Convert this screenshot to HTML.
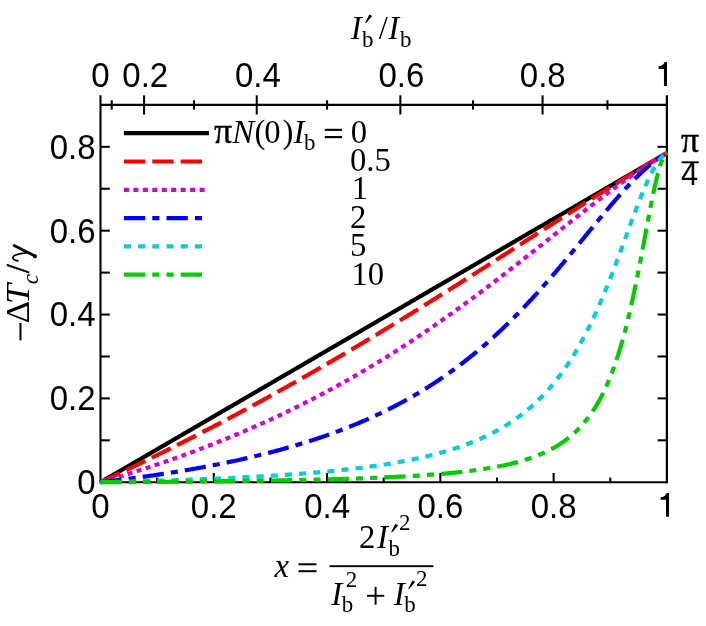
<!DOCTYPE html>
<html><head><meta charset="utf-8"><title>chart</title>
<style>html,body{margin:0;padding:0;background:#fff;}svg{display:block;will-change:transform;}text{font-family:"Liberation Sans",sans-serif;fill:#000;}.h{font-family:"Liberation Sans",sans-serif;}.s{font-family:"Liberation Serif",serif;}.i{font-family:"Liberation Serif",serif;font-style:italic;}</style></head><body>
<svg width="706" height="626" viewBox="0 0 706 626">
<rect width="706" height="626" fill="#fff"/>
<g stroke="#000" fill="none" stroke-linecap="butt">
<line x1="100.50" y1="95.30" x2="100.50" y2="483.30" stroke-width="2.10"/>
<line x1="666.90" y1="95.30" x2="666.90" y2="483.30" stroke-width="2.20"/>
<line x1="100.50" y1="104.90" x2="666.90" y2="104.90" stroke-width="2.30"/>
<line x1="100.50" y1="482.25" x2="666.90" y2="482.25" stroke-width="2.10"/>
<line x1="157.14" y1="482.25" x2="157.14" y2="477.55" stroke-width="2.05"/>
<line x1="213.78" y1="482.25" x2="213.78" y2="472.95" stroke-width="2.05"/>
<line x1="270.42" y1="482.25" x2="270.42" y2="477.55" stroke-width="2.05"/>
<line x1="327.06" y1="482.25" x2="327.06" y2="472.95" stroke-width="2.05"/>
<line x1="383.70" y1="482.25" x2="383.70" y2="477.55" stroke-width="2.05"/>
<line x1="440.34" y1="482.25" x2="440.34" y2="472.95" stroke-width="2.05"/>
<line x1="496.98" y1="482.25" x2="496.98" y2="477.55" stroke-width="2.05"/>
<line x1="553.62" y1="482.25" x2="553.62" y2="472.95" stroke-width="2.05"/>
<line x1="610.26" y1="482.25" x2="610.26" y2="477.55" stroke-width="2.05"/>
<line x1="111.72" y1="100.20" x2="111.72" y2="109.60" stroke-width="2.05"/>
<line x1="144.07" y1="95.30" x2="144.07" y2="114.50" stroke-width="2.05"/>
<line x1="194.03" y1="100.20" x2="194.03" y2="109.60" stroke-width="2.05"/>
<line x1="256.75" y1="95.30" x2="256.75" y2="114.50" stroke-width="2.05"/>
<line x1="327.06" y1="100.20" x2="327.06" y2="109.60" stroke-width="2.05"/>
<line x1="400.36" y1="95.30" x2="400.36" y2="114.50" stroke-width="2.05"/>
<line x1="473.03" y1="100.20" x2="473.03" y2="109.60" stroke-width="2.05"/>
<line x1="542.57" y1="95.30" x2="542.57" y2="114.50" stroke-width="2.05"/>
<line x1="607.44" y1="100.20" x2="607.44" y2="109.60" stroke-width="2.05"/>
<line x1="100.50" y1="440.32" x2="109.80" y2="440.32" stroke-width="2.05"/>
<line x1="666.90" y1="440.32" x2="657.60" y2="440.32" stroke-width="2.05"/>
<line x1="100.50" y1="398.39" x2="109.80" y2="398.39" stroke-width="2.05"/>
<line x1="666.90" y1="398.39" x2="657.60" y2="398.39" stroke-width="2.05"/>
<line x1="100.50" y1="356.47" x2="109.80" y2="356.47" stroke-width="2.05"/>
<line x1="666.90" y1="356.47" x2="657.60" y2="356.47" stroke-width="2.05"/>
<line x1="100.50" y1="314.54" x2="109.80" y2="314.54" stroke-width="2.05"/>
<line x1="666.90" y1="314.54" x2="657.60" y2="314.54" stroke-width="2.05"/>
<line x1="100.50" y1="272.61" x2="109.80" y2="272.61" stroke-width="2.05"/>
<line x1="666.90" y1="272.61" x2="657.60" y2="272.61" stroke-width="2.05"/>
<line x1="100.50" y1="230.68" x2="109.80" y2="230.68" stroke-width="2.05"/>
<line x1="666.90" y1="230.68" x2="657.60" y2="230.68" stroke-width="2.05"/>
<line x1="100.50" y1="188.76" x2="109.80" y2="188.76" stroke-width="2.05"/>
<line x1="666.90" y1="188.76" x2="657.60" y2="188.76" stroke-width="2.05"/>
<line x1="100.50" y1="146.83" x2="109.80" y2="146.83" stroke-width="2.05"/>
<line x1="666.90" y1="146.83" x2="657.60" y2="146.83" stroke-width="2.05"/>
</g>
<g fill="none" stroke-width="4.20" stroke-linecap="butt" stroke-linejoin="round">
<path d="M100.5 482.2L101.6 481.6L102.8 480.9L103.9 480.3L105.0 479.6L106.2 479.0L107.3 478.3L108.4 477.6L109.6 477.0L110.7 476.3L111.8 475.7L113.0 475.0L114.1 474.3L115.2 473.7L116.4 473.0L117.5 472.4L118.6 471.7L119.8 471.1L120.9 470.4L122.0 469.7L123.2 469.1L124.3 468.4L125.4 467.8L126.6 467.1L127.7 466.4L128.8 465.8L130.0 465.1L131.1 464.5L132.2 463.8L133.4 463.2L134.5 462.5L135.6 461.8L136.7 461.2L137.9 460.5L139.0 459.9L140.1 459.2L141.3 458.5L142.4 457.9L143.5 457.2L144.7 456.6L145.8 455.9L146.9 455.2L148.1 454.6L149.2 453.9L150.3 453.3L151.5 452.6L152.6 452.0L153.7 451.3L154.9 450.6L156.0 450.0L157.1 449.3L158.3 448.7L159.4 448.0L160.5 447.3L161.7 446.7L162.8 446.0L163.9 445.4L165.1 444.7L166.2 444.1L167.3 443.4L168.5 442.7L169.6 442.1L170.7 441.4L171.9 440.8L173.0 440.1L174.1 439.4L175.3 438.8L176.4 438.1L177.5 437.5L178.7 436.8L179.8 436.1L180.9 435.5L182.1 434.8L183.2 434.2L184.3 433.5L185.5 432.9L186.6 432.2L187.7 431.5L188.9 430.9L190.0 430.2L191.1 429.6L192.3 428.9L193.4 428.2L194.5 427.6L195.7 426.9L196.8 426.3L197.9 425.6L199.1 425.0L200.2 424.3L201.3 423.6L202.5 423.0L203.6 422.3L204.7 421.7L205.9 421.0L207.0 420.3L208.1 419.7L209.2 419.0L210.4 418.4L211.5 417.7L212.6 417.0L213.8 416.4L214.9 415.7L216.0 415.1L217.2 414.4L218.3 413.8L219.4 413.1L220.6 412.4L221.7 411.8L222.8 411.1L224.0 410.5L225.1 409.8L226.2 409.1L227.4 408.5L228.5 407.8L229.6 407.2L230.8 406.5L231.9 405.9L233.0 405.2L234.2 404.5L235.3 403.9L236.4 403.2L237.6 402.6L238.7 401.9L239.8 401.2L241.0 400.6L242.1 399.9L243.2 399.3L244.4 398.6L245.5 397.9L246.6 397.3L247.8 396.6L248.9 396.0L250.0 395.3L251.2 394.7L252.3 394.0L253.4 393.3L254.6 392.7L255.7 392.0L256.8 391.4L258.0 390.7L259.1 390.0L260.2 389.4L261.4 388.7L262.5 388.1L263.6 387.4L264.8 386.8L265.9 386.1L267.0 385.4L268.2 384.8L269.3 384.1L270.4 383.5L271.6 382.8L272.7 382.1L273.8 381.5L275.0 380.8L276.1 380.2L277.2 379.5L278.3 378.8L279.5 378.2L280.6 377.5L281.7 376.9L282.9 376.2L284.0 375.6L285.1 374.9L286.3 374.2L287.4 373.6L288.5 372.9L289.7 372.3L290.8 371.6L291.9 370.9L293.1 370.3L294.2 369.6L295.3 369.0L296.5 368.3L297.6 367.7L298.7 367.0L299.9 366.3L301.0 365.7L302.1 365.0L303.3 364.4L304.4 363.7L305.5 363.0L306.7 362.4L307.8 361.7L308.9 361.1L310.1 360.4L311.2 359.8L312.3 359.1L313.5 358.4L314.6 357.8L315.7 357.1L316.9 356.5L318.0 355.8L319.1 355.1L320.3 354.5L321.4 353.8L322.5 353.2L323.7 352.5L324.8 351.8L325.9 351.2L327.1 350.5L328.2 349.9L329.3 349.2L330.5 348.6L331.6 347.9L332.7 347.2L333.9 346.6L335.0 345.9L336.1 345.3L337.3 344.6L338.4 343.9L339.5 343.3L340.7 342.6L341.8 342.0L342.9 341.3L344.1 340.7L345.2 340.0L346.3 339.3L347.5 338.7L348.6 338.0L349.7 337.4L350.8 336.7L352.0 336.0L353.1 335.4L354.2 334.7L355.4 334.1L356.5 333.4L357.6 332.7L358.8 332.1L359.9 331.4L361.0 330.8L362.2 330.1L363.3 329.5L364.4 328.8L365.6 328.1L366.7 327.5L367.8 326.8L369.0 326.2L370.1 325.5L371.2 324.8L372.4 324.2L373.5 323.5L374.6 322.9L375.8 322.2L376.9 321.6L378.0 320.9L379.2 320.2L380.3 319.6L381.4 318.9L382.6 318.3L383.7 317.6L384.8 316.9L386.0 316.3L387.1 315.6L388.2 315.0L389.4 314.3L390.5 313.6L391.6 313.0L392.8 312.3L393.9 311.7L395.0 311.0L396.2 310.4L397.3 309.7L398.4 309.0L399.6 308.4L400.7 307.7L401.8 307.1L403.0 306.4L404.1 305.7L405.2 305.1L406.4 304.4L407.5 303.8L408.6 303.1L409.8 302.5L410.9 301.8L412.0 301.1L413.2 300.5L414.3 299.8L415.4 299.2L416.6 298.5L417.7 297.8L418.8 297.2L419.9 296.5L421.1 295.9L422.2 295.2L423.3 294.5L424.5 293.9L425.6 293.2L426.7 292.6L427.9 291.9L429.0 291.3L430.1 290.6L431.3 289.9L432.4 289.3L433.5 288.6L434.7 288.0L435.8 287.3L436.9 286.6L438.1 286.0L439.2 285.3L440.3 284.7L441.5 284.0L442.6 283.4L443.7 282.7L444.9 282.0L446.0 281.4L447.1 280.7L448.3 280.1L449.4 279.4L450.5 278.7L451.7 278.1L452.8 277.4L453.9 276.8L455.1 276.1L456.2 275.4L457.3 274.8L458.5 274.1L459.6 273.5L460.7 272.8L461.9 272.2L463.0 271.5L464.1 270.8L465.3 270.2L466.4 269.5L467.5 268.9L468.7 268.2L469.8 267.5L470.9 266.9L472.1 266.2L473.2 265.6L474.3 264.9L475.5 264.3L476.6 263.6L477.7 262.9L478.9 262.3L480.0 261.6L481.1 261.0L482.3 260.3L483.4 259.6L484.5 259.0L485.7 258.3L486.8 257.7L487.9 257.0L489.1 256.4L490.2 255.7L491.3 255.0L492.4 254.4L493.6 253.7L494.7 253.1L495.8 252.4L497.0 251.7L498.1 251.1L499.2 250.4L500.4 249.8L501.5 249.1L502.6 248.4L503.8 247.8L504.9 247.1L506.0 246.5L507.2 245.8L508.3 245.2L509.4 244.5L510.6 243.8L511.7 243.2L512.8 242.5L514.0 241.9L515.1 241.2L516.2 240.5L517.4 239.9L518.5 239.2L519.6 238.6L520.8 237.9L521.9 237.3L523.0 236.6L524.2 235.9L525.3 235.3L526.4 234.6L527.6 234.0L528.7 233.3L529.8 232.6L531.0 232.0L532.1 231.3L533.2 230.7L534.4 230.0L535.5 229.3L536.6 228.7L537.8 228.0L538.9 227.4L540.0 226.7L541.2 226.1L542.3 225.4L543.4 224.7L544.6 224.1L545.7 223.4L546.8 222.8L548.0 222.1L549.1 221.4L550.2 220.8L551.4 220.1L552.5 219.5L553.6 218.8L554.8 218.2L555.9 217.5L557.0 216.8L558.2 216.2L559.3 215.5L560.4 214.9L561.5 214.2L562.7 213.5L563.8 212.9L564.9 212.2L566.1 211.6L567.2 210.9L568.3 210.2L569.5 209.6L570.6 208.9L571.7 208.3L572.9 207.6L574.0 207.0L575.1 206.3L576.3 205.6L577.4 205.0L578.5 204.3L579.7 203.7L580.8 203.0L581.9 202.3L583.1 201.7L584.2 201.0L585.3 200.4L586.5 199.7L587.6 199.1L588.7 198.4L589.9 197.7L591.0 197.1L592.1 196.4L593.3 195.8L594.4 195.1L595.5 194.4L596.7 193.8L597.8 193.1L598.9 192.5L600.1 191.8L601.2 191.1L602.3 190.5L603.5 189.8L604.6 189.2L605.7 188.5L606.9 187.9L608.0 187.2L609.1 186.5L610.3 185.9L611.4 185.2L612.5 184.6L613.7 183.9L614.8 183.2L615.9 182.6L617.1 181.9L618.2 181.3L619.3 180.6L620.5 180.0L621.6 179.3L622.7 178.6L623.9 178.0L625.0 177.3L626.1 176.7L627.3 176.0L628.4 175.3L629.5 174.7L630.7 174.0L631.8 173.4L632.9 172.7L634.0 172.0L635.2 171.4L636.3 170.7L637.4 170.1L638.6 169.4L639.7 168.8L640.8 168.1L642.0 167.4L643.1 166.8L644.2 166.1L645.4 165.5L646.5 164.8L647.6 164.1L648.8 163.5L649.9 162.8L651.0 162.2L652.2 161.5L653.3 160.9L654.4 160.2L655.6 159.5L656.7 158.9L657.8 158.2L659.0 157.6L660.1 156.9L661.2 156.2L662.4 155.6L663.5 154.9L664.6 154.3L665.8 153.6L666.9 153.0" stroke="#000000"/>
<path d="M100.5 482.2L101.6 481.7L102.8 481.2L103.9 480.7L105.0 480.1L106.2 479.6L107.3 479.1L108.4 478.5L109.6 478.0L110.7 477.5L111.8 476.9L113.0 476.4L114.1 475.9L115.2 475.3L116.4 474.8L117.5 474.3L118.6 473.7L119.8 473.2L120.9 472.7L122.0 472.1L123.2 471.6L124.3 471.0L125.4 470.5L126.6 470.0L127.7 469.4L128.8 468.9L130.0 468.3L131.1 467.8L132.2 467.2L133.4 466.7L134.5 466.2L135.6 465.6L136.7 465.1L137.9 464.5L139.0 464.0L140.1 463.4L141.3 462.9L142.4 462.3L143.5 461.8L144.7 461.2L145.8 460.7L146.9 460.1L148.1 459.6L149.2 459.0L150.3 458.4L151.5 457.9L152.6 457.3L153.7 456.8L154.9 456.2L156.0 455.7L157.1 455.1L158.3 454.5L159.4 454.0L160.5 453.4L161.7 452.9L162.8 452.3L163.9 451.7L165.1 451.2L166.2 450.6L167.3 450.0L168.5 449.5L169.6 448.9L170.7 448.4L171.9 447.8L173.0 447.2L174.1 446.6L175.3 446.1L176.4 445.5L177.5 444.9L178.7 444.4L179.8 443.8L180.9 443.2L182.1 442.6L183.2 442.1L184.3 441.5L185.5 440.9L186.6 440.3L187.7 439.8L188.9 439.2L190.0 438.6L191.1 438.0L192.3 437.5L193.4 436.9L194.5 436.3L195.7 435.7L196.8 435.1L197.9 434.6L199.1 434.0L200.2 433.4L201.3 432.8L202.5 432.2L203.6 431.6L204.7 431.0L205.9 430.5L207.0 429.9L208.1 429.3L209.2 428.7L210.4 428.1L211.5 427.5L212.6 426.9L213.8 426.3L214.9 425.7L216.0 425.1L217.2 424.6L218.3 424.0L219.4 423.4L220.6 422.8L221.7 422.2L222.8 421.6L224.0 421.0L225.1 420.4L226.2 419.8L227.4 419.2L228.5 418.6L229.6 418.0L230.8 417.4L231.9 416.8L233.0 416.2L234.2 415.6L235.3 415.0L236.4 414.4L237.6 413.8L238.7 413.1L239.8 412.5L241.0 411.9L242.1 411.3L243.2 410.7L244.4 410.1L245.5 409.5L246.6 408.9L247.8 408.3L248.9 407.7L250.0 407.0L251.2 406.4L252.3 405.8L253.4 405.2L254.6 404.6L255.7 404.0L256.8 403.4L258.0 402.7L259.1 402.1L260.2 401.5L261.4 400.9L262.5 400.3L263.6 399.6L264.8 399.0L265.9 398.4L267.0 397.8L268.2 397.2L269.3 396.5L270.4 395.9L271.6 395.3L272.7 394.7L273.8 394.0L275.0 393.4L276.1 392.8L277.2 392.1L278.3 391.5L279.5 390.9L280.6 390.3L281.7 389.6L282.9 389.0L284.0 388.4L285.1 387.7L286.3 387.1L287.4 386.5L288.5 385.8L289.7 385.2L290.8 384.5L291.9 383.9L293.1 383.3L294.2 382.6L295.3 382.0L296.5 381.4L297.6 380.7L298.7 380.1L299.9 379.4L301.0 378.8L302.1 378.1L303.3 377.5L304.4 376.9L305.5 376.2L306.7 375.6L307.8 374.9L308.9 374.3L310.1 373.6L311.2 373.0L312.3 372.3L313.5 371.7L314.6 371.0L315.7 370.4L316.9 369.7L318.0 369.1L319.1 368.4L320.3 367.8L321.4 367.1L322.5 366.5L323.7 365.8L324.8 365.2L325.9 364.5L327.1 363.9L328.2 363.2L329.3 362.5L330.5 361.9L331.6 361.2L332.7 360.6L333.9 359.9L335.0 359.2L336.1 358.6L337.3 357.9L338.4 357.3L339.5 356.6L340.7 355.9L341.8 355.3L342.9 354.6L344.1 353.9L345.2 353.3L346.3 352.6L347.5 351.9L348.6 351.3L349.7 350.6L350.8 349.9L352.0 349.3L353.1 348.6L354.2 347.9L355.4 347.2L356.5 346.6L357.6 345.9L358.8 345.2L359.9 344.5L361.0 343.9L362.2 343.2L363.3 342.5L364.4 341.8L365.6 341.2L366.7 340.5L367.8 339.8L369.0 339.1L370.1 338.5L371.2 337.8L372.4 337.1L373.5 336.4L374.6 335.7L375.8 335.1L376.9 334.4L378.0 333.7L379.2 333.0L380.3 332.3L381.4 331.6L382.6 331.0L383.7 330.3L384.8 329.6L386.0 328.9L387.1 328.2L388.2 327.5L389.4 326.8L390.5 326.1L391.6 325.5L392.8 324.8L393.9 324.1L395.0 323.4L396.2 322.7L397.3 322.0L398.4 321.3L399.6 320.6L400.7 319.9L401.8 319.2L403.0 318.5L404.1 317.8L405.2 317.1L406.4 316.4L407.5 315.7L408.6 315.0L409.8 314.4L410.9 313.7L412.0 313.0L413.2 312.3L414.3 311.6L415.4 310.9L416.6 310.2L417.7 309.5L418.8 308.8L419.9 308.1L421.1 307.4L422.2 306.7L423.3 305.9L424.5 305.2L425.6 304.5L426.7 303.8L427.9 303.1L429.0 302.4L430.1 301.7L431.3 301.0L432.4 300.3L433.5 299.6L434.7 298.9L435.8 298.2L436.9 297.5L438.1 296.8L439.2 296.1L440.3 295.4L441.5 294.6L442.6 293.9L443.7 293.2L444.9 292.5L446.0 291.8L447.1 291.1L448.3 290.4L449.4 289.7L450.5 288.9L451.7 288.2L452.8 287.5L453.9 286.8L455.1 286.1L456.2 285.4L457.3 284.7L458.5 283.9L459.6 283.2L460.7 282.5L461.9 281.8L463.0 281.1L464.1 280.4L465.3 279.6L466.4 278.9L467.5 278.2L468.7 277.5L469.8 276.8L470.9 276.1L472.1 275.3L473.2 274.6L474.3 273.9L475.5 273.2L476.6 272.5L477.7 271.7L478.9 271.0L480.0 270.3L481.1 269.6L482.3 268.9L483.4 268.1L484.5 267.4L485.7 266.7L486.8 266.0L487.9 265.2L489.1 264.5L490.2 263.8L491.3 263.1L492.4 262.3L493.6 261.6L494.7 260.9L495.8 260.2L497.0 259.5L498.1 258.7L499.2 258.0L500.4 257.3L501.5 256.6L502.6 255.8L503.8 255.1L504.9 254.4L506.0 253.7L507.2 252.9L508.3 252.2L509.4 251.5L510.6 250.7L511.7 250.0L512.8 249.3L514.0 248.6L515.1 247.8L516.2 247.1L517.4 246.4L518.5 245.7L519.6 244.9L520.8 244.2L521.9 243.5L523.0 242.8L524.2 242.0L525.3 241.3L526.4 240.6L527.6 239.8L528.7 239.1L529.8 238.4L531.0 237.7L532.1 236.9L533.2 236.2L534.4 235.5L535.5 234.8L536.6 234.0L537.8 233.3L538.9 232.6L540.0 231.8L541.2 231.1L542.3 230.4L543.4 229.7L544.6 228.9L545.7 228.2L546.8 227.5L548.0 226.8L549.1 226.0L550.2 225.3L551.4 224.6L552.5 223.9L553.6 223.1L554.8 222.4L555.9 221.7L557.0 221.0L558.2 220.2L559.3 219.5L560.4 218.8L561.5 218.1L562.7 217.3L563.8 216.6L564.9 215.9L566.1 215.2L567.2 214.4L568.3 213.7L569.5 213.0L570.6 212.3L571.7 211.5L572.9 210.8L574.0 210.1L575.1 209.4L576.3 208.7L577.4 207.9L578.5 207.2L579.7 206.5L580.8 205.8L581.9 205.1L583.1 204.3L584.2 203.6L585.3 202.9L586.5 202.2L587.6 201.5L588.7 200.7L589.9 200.0L591.0 199.3L592.1 198.6L593.3 197.9L594.4 197.2L595.5 196.5L596.7 195.7L597.8 195.0L598.9 194.3L600.1 193.6L601.2 192.9L602.3 192.2L603.5 191.5L604.6 190.8L605.7 190.1L606.9 189.3L608.0 188.6L609.1 187.9L610.3 187.2L611.4 186.5L612.5 185.8L613.7 185.1L614.8 184.4L615.9 183.7L617.1 183.0L618.2 182.3L619.3 181.6L620.5 180.9L621.6 180.2L622.7 179.5L623.9 178.8L625.0 178.1L626.1 177.4L627.3 176.7L628.4 176.0L629.5 175.3L630.7 174.6L631.8 173.9L632.9 173.2L634.0 172.5L635.2 171.9L636.3 171.2L637.4 170.5L638.6 169.8L639.7 169.1L640.8 168.4L642.0 167.7L643.1 167.0L644.2 166.4L645.4 165.7L646.5 165.0L647.6 164.3L648.8 163.6L649.9 163.0L651.0 162.3L652.2 161.6L653.3 160.9L654.4 160.3L655.6 159.6L656.7 158.9L657.8 158.3L659.0 157.6L660.1 156.9L661.2 156.3L662.4 155.6L663.5 154.9L664.6 154.3L665.8 153.6L666.9 153.0" stroke="#ff0000" stroke-dasharray="21.3 7.1"/>
<path d="M100.5 482.2L101.6 481.9L102.8 481.6L103.9 481.3L105.0 480.9L106.2 480.6L107.3 480.3L108.4 479.9L109.6 479.6L110.7 479.2L111.8 478.9L113.0 478.6L114.1 478.2L115.2 477.9L116.4 477.5L117.5 477.2L118.6 476.9L119.8 476.5L120.9 476.2L122.0 475.8L123.2 475.5L124.3 475.1L125.4 474.8L126.6 474.4L127.7 474.1L128.8 473.7L130.0 473.3L131.1 473.0L132.2 472.6L133.4 472.3L134.5 471.9L135.6 471.5L136.7 471.2L137.9 470.8L139.0 470.5L140.1 470.1L141.3 469.7L142.4 469.4L143.5 469.0L144.7 468.6L145.8 468.2L146.9 467.9L148.1 467.5L149.2 467.1L150.3 466.8L151.5 466.4L152.6 466.0L153.7 465.6L154.9 465.2L156.0 464.9L157.1 464.5L158.3 464.1L159.4 463.7L160.5 463.3L161.7 462.9L162.8 462.5L163.9 462.2L165.1 461.8L166.2 461.4L167.3 461.0L168.5 460.6L169.6 460.2L170.7 459.8L171.9 459.4L173.0 459.0L174.1 458.6L175.3 458.2L176.4 457.8L177.5 457.4L178.7 457.0L179.8 456.6L180.9 456.2L182.1 455.8L183.2 455.3L184.3 454.9L185.5 454.5L186.6 454.1L187.7 453.7L188.9 453.3L190.0 452.9L191.1 452.4L192.3 452.0L193.4 451.6L194.5 451.2L195.7 450.7L196.8 450.3L197.9 449.9L199.1 449.5L200.2 449.0L201.3 448.6L202.5 448.2L203.6 447.7L204.7 447.3L205.9 446.9L207.0 446.4L208.1 446.0L209.2 445.5L210.4 445.1L211.5 444.7L212.6 444.2L213.8 443.8L214.9 443.3L216.0 442.9L217.2 442.4L218.3 442.0L219.4 441.5L220.6 441.1L221.7 440.6L222.8 440.1L224.0 439.7L225.1 439.2L226.2 438.8L227.4 438.3L228.5 437.8L229.6 437.4L230.8 436.9L231.9 436.4L233.0 436.0L234.2 435.5L235.3 435.0L236.4 434.5L237.6 434.1L238.7 433.6L239.8 433.1L241.0 432.6L242.1 432.1L243.2 431.7L244.4 431.2L245.5 430.7L246.6 430.2L247.8 429.7L248.9 429.2L250.0 428.7L251.2 428.2L252.3 427.7L253.4 427.2L254.6 426.7L255.7 426.2L256.8 425.7L258.0 425.2L259.1 424.7L260.2 424.2L261.4 423.7L262.5 423.2L263.6 422.7L264.8 422.2L265.9 421.7L267.0 421.1L268.2 420.6L269.3 420.1L270.4 419.6L271.6 419.1L272.7 418.5L273.8 418.0L275.0 417.5L276.1 417.0L277.2 416.4L278.3 415.9L279.5 415.4L280.6 414.8L281.7 414.3L282.9 413.7L284.0 413.2L285.1 412.7L286.3 412.1L287.4 411.6L288.5 411.0L289.7 410.5L290.8 409.9L291.9 409.4L293.1 408.8L294.2 408.3L295.3 407.7L296.5 407.2L297.6 406.6L298.7 406.0L299.9 405.5L301.0 404.9L302.1 404.3L303.3 403.8L304.4 403.2L305.5 402.6L306.7 402.0L307.8 401.5L308.9 400.9L310.1 400.3L311.2 399.7L312.3 399.1L313.5 398.6L314.6 398.0L315.7 397.4L316.9 396.8L318.0 396.2L319.1 395.6L320.3 395.0L321.4 394.4L322.5 393.8L323.7 393.2L324.8 392.6L325.9 392.0L327.1 391.4L328.2 390.8L329.3 390.2L330.5 389.6L331.6 389.0L332.7 388.4L333.9 387.7L335.0 387.1L336.1 386.5L337.3 385.9L338.4 385.2L339.5 384.6L340.7 384.0L341.8 383.4L342.9 382.7L344.1 382.1L345.2 381.5L346.3 380.8L347.5 380.2L348.6 379.5L349.7 378.9L350.8 378.3L352.0 377.6L353.1 377.0L354.2 376.3L355.4 375.7L356.5 375.0L357.6 374.4L358.8 373.7L359.9 373.0L361.0 372.4L362.2 371.7L363.3 371.1L364.4 370.4L365.6 369.7L366.7 369.0L367.8 368.4L369.0 367.7L370.1 367.0L371.2 366.3L372.4 365.7L373.5 365.0L374.6 364.3L375.8 363.6L376.9 362.9L378.0 362.2L379.2 361.5L380.3 360.9L381.4 360.2L382.6 359.5L383.7 358.8L384.8 358.1L386.0 357.4L387.1 356.7L388.2 355.9L389.4 355.2L390.5 354.5L391.6 353.8L392.8 353.1L393.9 352.4L395.0 351.7L396.2 351.0L397.3 350.2L398.4 349.5L399.6 348.8L400.7 348.1L401.8 347.3L403.0 346.6L404.1 345.9L405.2 345.1L406.4 344.4L407.5 343.7L408.6 342.9L409.8 342.2L410.9 341.4L412.0 340.7L413.2 339.9L414.3 339.2L415.4 338.4L416.6 337.7L417.7 336.9L418.8 336.2L419.9 335.4L421.1 334.6L422.2 333.9L423.3 333.1L424.5 332.3L425.6 331.6L426.7 330.8L427.9 330.0L429.0 329.3L430.1 328.5L431.3 327.7L432.4 326.9L433.5 326.2L434.7 325.4L435.8 324.6L436.9 323.8L438.1 323.0L439.2 322.2L440.3 321.4L441.5 320.6L442.6 319.8L443.7 319.0L444.9 318.2L446.0 317.4L447.1 316.6L448.3 315.8L449.4 315.0L450.5 314.2L451.7 313.4L452.8 312.6L453.9 311.8L455.1 311.0L456.2 310.2L457.3 309.3L458.5 308.5L459.6 307.7L460.7 306.9L461.9 306.1L463.0 305.2L464.1 304.4L465.3 303.6L466.4 302.7L467.5 301.9L468.7 301.1L469.8 300.2L470.9 299.4L472.1 298.6L473.2 297.7L474.3 296.9L475.5 296.1L476.6 295.2L477.7 294.4L478.9 293.5L480.0 292.7L481.1 291.8L482.3 291.0L483.4 290.1L484.5 289.3L485.7 288.4L486.8 287.5L487.9 286.7L489.1 285.8L490.2 285.0L491.3 284.1L492.4 283.2L493.6 282.4L494.7 281.5L495.8 280.6L497.0 279.8L498.1 278.9L499.2 278.0L500.4 277.2L501.5 276.3L502.6 275.4L503.8 274.5L504.9 273.7L506.0 272.8L507.2 271.9L508.3 271.0L509.4 270.1L510.6 269.3L511.7 268.4L512.8 267.5L514.0 266.6L515.1 265.7L516.2 264.8L517.4 264.0L518.5 263.1L519.6 262.2L520.8 261.3L521.9 260.4L523.0 259.5L524.2 258.6L525.3 257.7L526.4 256.8L527.6 255.9L528.7 255.0L529.8 254.2L531.0 253.3L532.1 252.4L533.2 251.5L534.4 250.6L535.5 249.7L536.6 248.8L537.8 247.9L538.9 247.0L540.0 246.1L541.2 245.2L542.3 244.3L543.4 243.4L544.6 242.5L545.7 241.6L546.8 240.7L548.0 239.8L549.1 238.9L550.2 238.0L551.4 237.1L552.5 236.2L553.6 235.3L554.8 234.4L555.9 233.5L557.0 232.6L558.2 231.7L559.3 230.8L560.4 229.9L561.5 229.0L562.7 228.1L563.8 227.2L564.9 226.3L566.1 225.4L567.2 224.5L568.3 223.6L569.5 222.7L570.6 221.8L571.7 220.9L572.9 220.0L574.0 219.1L575.1 218.2L576.3 217.3L577.4 216.4L578.5 215.5L579.7 214.7L580.8 213.8L581.9 212.9L583.1 212.0L584.2 211.1L585.3 210.2L586.5 209.3L587.6 208.5L588.7 207.6L589.9 206.7L591.0 205.8L592.1 205.0L593.3 204.1L594.4 203.2L595.5 202.3L596.7 201.5L597.8 200.6L598.9 199.7L600.1 198.9L601.2 198.0L602.3 197.1L603.5 196.3L604.6 195.4L605.7 194.6L606.9 193.7L608.0 192.9L609.1 192.0L610.3 191.2L611.4 190.3L612.5 189.5L613.7 188.6L614.8 187.8L615.9 187.0L617.1 186.1L618.2 185.3L619.3 184.5L620.5 183.7L621.6 182.8L622.7 182.0L623.9 181.2L625.0 180.4L626.1 179.6L627.3 178.8L628.4 178.0L629.5 177.2L630.7 176.4L631.8 175.6L632.9 174.8L634.0 174.0L635.2 173.2L636.3 172.4L637.4 171.7L638.6 170.9L639.7 170.1L640.8 169.4L642.0 168.6L643.1 167.8L644.2 167.1L645.4 166.3L646.5 165.6L647.6 164.9L648.8 164.1L649.9 163.4L651.0 162.7L652.2 161.9L653.3 161.2L654.4 160.5L655.6 159.8L656.7 159.1L657.8 158.4L659.0 157.7L660.1 157.0L661.2 156.3L662.4 155.6L663.5 154.9L664.6 154.3L665.8 153.6L666.9 153.0" stroke="#d200d2" stroke-dasharray="5 4.46"/>
<path d="M100.5 482.2L101.6 482.1L102.8 482.0L103.9 481.9L105.0 481.7L106.2 481.6L107.3 481.4L108.4 481.3L109.6 481.2L110.7 481.0L111.8 480.9L113.0 480.8L114.1 480.6L115.2 480.5L116.4 480.3L117.5 480.2L118.6 480.1L119.8 479.9L120.9 479.8L122.0 479.6L123.2 479.5L124.3 479.3L125.4 479.2L126.6 479.0L127.7 478.9L128.8 478.7L130.0 478.6L131.1 478.4L132.2 478.3L133.4 478.1L134.5 478.0L135.6 477.8L136.7 477.7L137.9 477.5L139.0 477.4L140.1 477.2L141.3 477.1L142.4 476.9L143.5 476.7L144.7 476.6L145.8 476.4L146.9 476.3L148.1 476.1L149.2 475.9L150.3 475.8L151.5 475.6L152.6 475.5L153.7 475.3L154.9 475.1L156.0 475.0L157.1 474.8L158.3 474.6L159.4 474.4L160.5 474.3L161.7 474.1L162.8 473.9L163.9 473.8L165.1 473.6L166.2 473.4L167.3 473.2L168.5 473.1L169.6 472.9L170.7 472.7L171.9 472.5L173.0 472.3L174.1 472.1L175.3 472.0L176.4 471.8L177.5 471.6L178.7 471.4L179.8 471.2L180.9 471.0L182.1 470.8L183.2 470.7L184.3 470.5L185.5 470.3L186.6 470.1L187.7 469.9L188.9 469.7L190.0 469.5L191.1 469.3L192.3 469.1L193.4 468.9L194.5 468.7L195.7 468.5L196.8 468.3L197.9 468.1L199.1 467.9L200.2 467.7L201.3 467.5L202.5 467.3L203.6 467.1L204.7 466.8L205.9 466.6L207.0 466.4L208.1 466.2L209.2 466.0L210.4 465.8L211.5 465.6L212.6 465.3L213.8 465.1L214.9 464.9L216.0 464.7L217.2 464.5L218.3 464.2L219.4 464.0L220.6 463.8L221.7 463.5L222.8 463.3L224.0 463.1L225.1 462.9L226.2 462.6L227.4 462.4L228.5 462.1L229.6 461.9L230.8 461.7L231.9 461.4L233.0 461.2L234.2 460.9L235.3 460.7L236.4 460.5L237.6 460.2L238.7 460.0L239.8 459.7L241.0 459.5L242.1 459.2L243.2 458.9L244.4 458.7L245.5 458.4L246.6 458.2L247.8 457.9L248.9 457.6L250.0 457.4L251.2 457.1L252.3 456.9L253.4 456.6L254.6 456.3L255.7 456.0L256.8 455.8L258.0 455.5L259.1 455.2L260.2 454.9L261.4 454.7L262.5 454.4L263.6 454.1L264.8 453.8L265.9 453.5L267.0 453.2L268.2 453.0L269.3 452.7L270.4 452.4L271.6 452.1L272.7 451.8L273.8 451.5L275.0 451.2L276.1 450.9L277.2 450.6L278.3 450.3L279.5 450.0L280.6 449.7L281.7 449.3L282.9 449.0L284.0 448.7L285.1 448.4L286.3 448.1L287.4 447.8L288.5 447.4L289.7 447.1L290.8 446.8L291.9 446.5L293.1 446.1L294.2 445.8L295.3 445.5L296.5 445.1L297.6 444.8L298.7 444.4L299.9 444.1L301.0 443.8L302.1 443.4L303.3 443.1L304.4 442.7L305.5 442.4L306.7 442.0L307.8 441.6L308.9 441.3L310.1 440.9L311.2 440.6L312.3 440.2L313.5 439.8L314.6 439.4L315.7 439.1L316.9 438.7L318.0 438.3L319.1 437.9L320.3 437.6L321.4 437.2L322.5 436.8L323.7 436.4L324.8 436.0L325.9 435.6L327.1 435.2L328.2 434.8L329.3 434.4L330.5 434.0L331.6 433.6L332.7 433.2L333.9 432.8L335.0 432.4L336.1 431.9L337.3 431.5L338.4 431.1L339.5 430.7L340.7 430.2L341.8 429.8L342.9 429.4L344.1 428.9L345.2 428.5L346.3 428.0L347.5 427.6L348.6 427.1L349.7 426.7L350.8 426.2L352.0 425.8L353.1 425.3L354.2 424.9L355.4 424.4L356.5 423.9L357.6 423.5L358.8 423.0L359.9 422.5L361.0 422.0L362.2 421.5L363.3 421.0L364.4 420.6L365.6 420.1L366.7 419.6L367.8 419.1L369.0 418.6L370.1 418.0L371.2 417.5L372.4 417.0L373.5 416.5L374.6 416.0L375.8 415.5L376.9 414.9L378.0 414.4L379.2 413.9L380.3 413.3L381.4 412.8L382.6 412.2L383.7 411.7L384.8 411.1L386.0 410.6L387.1 410.0L388.2 409.5L389.4 408.9L390.5 408.3L391.6 407.7L392.8 407.2L393.9 406.6L395.0 406.0L396.2 405.4L397.3 404.8L398.4 404.2L399.6 403.6L400.7 403.0L401.8 402.4L403.0 401.8L404.1 401.2L405.2 400.5L406.4 399.9L407.5 399.3L408.6 398.6L409.8 398.0L410.9 397.4L412.0 396.7L413.2 396.1L414.3 395.4L415.4 394.7L416.6 394.1L417.7 393.4L418.8 392.7L419.9 392.0L421.1 391.4L422.2 390.7L423.3 390.0L424.5 389.3L425.6 388.6L426.7 387.9L427.9 387.2L429.0 386.5L430.1 385.7L431.3 385.0L432.4 384.3L433.5 383.5L434.7 382.8L435.8 382.1L436.9 381.3L438.1 380.6L439.2 379.8L440.3 379.0L441.5 378.3L442.6 377.5L443.7 376.7L444.9 375.9L446.0 375.1L447.1 374.3L448.3 373.5L449.4 372.7L450.5 371.9L451.7 371.1L452.8 370.3L453.9 369.5L455.1 368.6L456.2 367.8L457.3 367.0L458.5 366.1L459.6 365.3L460.7 364.4L461.9 363.5L463.0 362.7L464.1 361.8L465.3 360.9L466.4 360.0L467.5 359.1L468.7 358.2L469.8 357.3L470.9 356.4L472.1 355.5L473.2 354.6L474.3 353.7L475.5 352.7L476.6 351.8L477.7 350.8L478.9 349.9L480.0 348.9L481.1 348.0L482.3 347.0L483.4 346.0L484.5 345.1L485.7 344.1L486.8 343.1L487.9 342.1L489.1 341.1L490.2 340.1L491.3 339.1L492.4 338.0L493.6 337.0L494.7 336.0L495.8 334.9L497.0 333.9L498.1 332.9L499.2 331.8L500.4 330.7L501.5 329.7L502.6 328.6L503.8 327.5L504.9 326.4L506.0 325.3L507.2 324.2L508.3 323.1L509.4 322.0L510.6 320.9L511.7 319.8L512.8 318.6L514.0 317.5L515.1 316.4L516.2 315.2L517.4 314.1L518.5 312.9L519.6 311.7L520.8 310.6L521.9 309.4L523.0 308.2L524.2 307.0L525.3 305.8L526.4 304.6L527.6 303.4L528.7 302.2L529.8 301.0L531.0 299.8L532.1 298.6L533.2 297.3L534.4 296.1L535.5 294.8L536.6 293.6L537.8 292.3L538.9 291.1L540.0 289.8L541.2 288.6L542.3 287.3L543.4 286.0L544.6 284.7L545.7 283.4L546.8 282.1L548.0 280.8L549.1 279.5L550.2 278.2L551.4 276.9L552.5 275.6L553.6 274.3L554.8 272.9L555.9 271.6L557.0 270.3L558.2 268.9L559.3 267.6L560.4 266.3L561.5 264.9L562.7 263.6L563.8 262.2L564.9 260.9L566.1 259.5L567.2 258.1L568.3 256.8L569.5 255.4L570.6 254.0L571.7 252.7L572.9 251.3L574.0 249.9L575.1 248.5L576.3 247.1L577.4 245.8L578.5 244.4L579.7 243.0L580.8 241.6L581.9 240.2L583.1 238.8L584.2 237.5L585.3 236.1L586.5 234.7L587.6 233.3L588.7 231.9L589.9 230.5L591.0 229.1L592.1 227.8L593.3 226.4L594.4 225.0L595.5 223.6L596.7 222.2L597.8 220.9L598.9 219.5L600.1 218.1L601.2 216.8L602.3 215.4L603.5 214.0L604.6 212.7L605.7 211.3L606.9 210.0L608.0 208.6L609.1 207.3L610.3 206.0L611.4 204.6L612.5 203.3L613.7 202.0L614.8 200.7L615.9 199.4L617.1 198.1L618.2 196.8L619.3 195.5L620.5 194.3L621.6 193.0L622.7 191.8L623.9 190.5L625.0 189.3L626.1 188.0L627.3 186.8L628.4 185.6L629.5 184.4L630.7 183.2L631.8 182.1L632.9 180.9L634.0 179.7L635.2 178.6L636.3 177.5L637.4 176.4L638.6 175.3L639.7 174.2L640.8 173.1L642.0 172.0L643.1 171.0L644.2 170.0L645.4 169.0L646.5 168.0L647.6 167.0L648.8 166.0L649.9 165.0L651.0 164.1L652.2 163.2L653.3 162.3L654.4 161.4L655.6 160.5L656.7 159.7L657.8 158.9L659.0 158.1L660.1 157.3L661.2 156.5L662.4 155.8L663.5 155.0L664.6 154.3L665.8 153.6L666.9 153.0" stroke="#0000ff" stroke-dasharray="21.3 7.1 7.1 7.1"/>
<path d="M100.5 482.2L102.4 482.2L104.3 482.2L106.3 482.1L108.2 482.1L110.1 482.0L112.0 482.0L113.9 481.9L115.8 481.9L117.7 481.8L119.6 481.8L121.5 481.8L123.4 481.7L125.3 481.7L127.2 481.6L129.1 481.6L131.0 481.5L132.8 481.5L134.7 481.4L136.6 481.4L138.5 481.3L140.3 481.3L142.2 481.2L144.1 481.2L145.9 481.1L147.8 481.0L149.7 481.0L151.5 480.9L153.4 480.9L155.2 480.8L157.1 480.8L158.9 480.7L160.7 480.7L162.6 480.6L164.4 480.5L166.2 480.5L168.1 480.4L169.9 480.4L171.7 480.3L173.5 480.3L175.4 480.2L177.2 480.1L179.0 480.1L180.8 480.0L182.6 479.9L184.4 479.9L186.2 479.8L188.0 479.8L189.8 479.7L191.6 479.6L193.4 479.6L195.2 479.5L197.0 479.4L198.7 479.4L200.5 479.3L202.3 479.2L204.1 479.1L205.8 479.1L207.6 479.0L209.4 478.9L211.1 478.9L212.9 478.8L214.6 478.7L216.4 478.6L218.2 478.6L219.9 478.5L221.6 478.4L223.4 478.3L225.1 478.2L226.9 478.2L228.6 478.1L230.3 478.0L232.1 477.9L233.8 477.8L235.5 477.8L237.2 477.7L238.9 477.6L240.7 477.5L242.4 477.4L244.1 477.3L245.8 477.2L247.5 477.1L249.2 477.1L250.9 477.0L252.6 476.9L254.3 476.8L256.0 476.7L257.6 476.6L259.3 476.5L261.0 476.4L262.7 476.3L264.4 476.2L266.0 476.1L267.7 476.0L269.4 475.9L271.0 475.8L272.7 475.7L274.4 475.6L276.0 475.5L277.7 475.4L279.3 475.3L281.0 475.2L282.6 475.1L284.2 474.9L285.9 474.8L287.5 474.7L289.1 474.6L290.8 474.5L292.4 474.4L294.0 474.3L295.6 474.1L297.3 474.0L298.9 473.9L300.5 473.8L302.1 473.6L303.7 473.5L305.3 473.4L306.9 473.3L308.5 473.1L310.1 473.0L311.7 472.9L313.3 472.7L314.8 472.6L316.4 472.5L318.0 472.3L319.6 472.2L321.2 472.0L322.7 471.9L324.3 471.8L325.9 471.6L327.4 471.5L329.0 471.3L330.5 471.2L332.1 471.0L333.6 470.9L335.2 470.7L336.7 470.5L338.3 470.4L339.8 470.2L341.3 470.1L342.9 469.9L344.4 469.7L345.9 469.6L347.4 469.4L349.0 469.2L350.5 469.1L352.0 468.9L353.5 468.7L355.0 468.5L356.5 468.3L358.0 468.2L359.5 468.0L361.0 467.8L362.5 467.6L364.0 467.4L365.5 467.2L367.0 467.0L368.4 466.8L369.9 466.6L371.4 466.4L372.9 466.2L374.3 466.0L375.8 465.8L377.3 465.6L378.7 465.4L380.2 465.1L381.6 464.9L383.1 464.7L384.5 464.5L386.0 464.3L387.4 464.0L388.9 463.8L390.3 463.6L391.7 463.3L393.2 463.1L394.6 462.8L396.0 462.6L397.4 462.3L398.8 462.1L400.3 461.8L401.7 461.6L403.1 461.3L404.5 461.0L405.9 460.8L407.3 460.5L408.7 460.2L410.1 460.0L411.5 459.7L412.8 459.4L414.2 459.1L415.6 458.8L417.0 458.5L418.4 458.2L419.7 457.9L421.1 457.6L422.5 457.3L423.8 457.0L425.2 456.7L426.5 456.4L427.9 456.0L429.2 455.7L430.6 455.4L431.9 455.0L433.3 454.7L434.6 454.4L435.9 454.0L437.3 453.7L438.6 453.3L439.9 452.9L441.2 452.6L442.5 452.2L443.9 451.8L445.2 451.5L446.5 451.1L447.8 450.7L449.1 450.3L450.4 449.9L451.7 449.5L453.0 449.1L454.2 448.7L455.5 448.2L456.8 447.8L458.1 447.4L459.4 447.0L460.6 446.5L461.9 446.1L463.2 445.6L464.4 445.2L465.7 444.7L466.9 444.2L468.2 443.8L469.5 443.3L470.7 442.8L471.9 442.3L473.2 441.8L474.4 441.3L475.7 440.8L476.9 440.3L478.1 439.8L479.3 439.2L480.6 438.7L481.8 438.1L483.0 437.6L484.2 437.0L485.4 436.5L486.6 435.9L487.8 435.3L489.0 434.7L490.2 434.1L491.4 433.5L492.6 432.9L493.8 432.3L494.9 431.7L496.1 431.1L497.3 430.4L498.5 429.8L499.6 429.1L500.8 428.4L501.9 427.8L503.1 427.1L504.3 426.4L505.4 425.7L506.6 425.0L507.7 424.3L508.8 423.5L510.0 422.8L511.1 422.1L512.2 421.3L513.4 420.6L514.5 419.8L515.6 419.0L516.7 418.2L517.8 417.4L518.9 416.6L520.1 415.8L521.2 414.9L522.3 414.1L523.4 413.2L524.4 412.4L525.5 411.5L526.6 410.6L527.7 409.7L528.8 408.8L529.9 407.9L530.9 407.0L532.0 406.0L533.1 405.1L534.1 404.1L535.2 403.1L536.2 402.1L537.3 401.1L538.3 400.1L539.4 399.1L540.4 398.1L541.5 397.0L542.5 396.0L543.5 394.9L544.5 393.8L545.6 392.7L546.6 391.6L547.6 390.5L548.6 389.3L549.6 388.2L550.6 387.0L551.6 385.8L552.6 384.7L553.6 383.5L554.6 382.2L555.6 381.0L556.6 379.8L557.6 378.5L558.5 377.2L559.5 376.0L560.5 374.7L561.5 373.4L562.4 372.0L563.4 370.7L564.3 369.3L565.3 368.0L566.2 366.6L567.2 365.2L568.1 363.8L569.0 362.4L570.0 360.9L570.9 359.5L571.8 358.0L572.8 356.6L573.7 355.1L574.6 353.6L575.5 352.1L576.4 350.5L577.3 349.0L578.2 347.4L579.1 345.9L580.0 344.3L580.9 342.7L581.8 341.1L582.6 339.5L583.5 337.8L584.4 336.2L585.3 334.5L586.1 332.9L587.0 331.2L587.8 329.5L588.7 327.8L589.6 326.1L590.4 324.3L591.2 322.6L592.1 320.8L592.9 319.1L593.7 317.3L594.6 315.5L595.4 313.7L596.2 311.9L597.0 310.1L597.8 308.3L598.7 306.5L599.5 304.7L600.3 302.8L601.1 301.0L601.8 299.1L602.6 297.3L603.4 295.4L604.2 293.5L605.0 291.7L605.7 289.8L606.5 287.9L607.3 286.0L608.0 284.1L608.8 282.2L609.5 280.3L610.3 278.4L611.0 276.5L611.8 274.6L612.5 272.7L613.2 270.8L614.0 268.9L614.7 267.0L615.4 265.1L616.1 263.2L616.8 261.3L617.5 259.4L618.3 257.6L618.9 255.7L619.6 253.8L620.3 251.9L621.0 250.1L621.7 248.2L622.4 246.4L623.1 244.5L623.7 242.7L624.4 240.9L625.1 239.1L625.7 237.3L626.4 235.5L627.0 233.7L627.7 232.0L628.3 230.2L628.9 228.5L629.6 226.8L630.2 225.1L630.8 223.4L631.4 221.7L632.0 220.0L632.6 218.4L633.2 216.7L633.8 215.1L634.4 213.5L635.0 212.0L635.6 210.4L636.2 208.9L636.8 207.4L637.4 205.9L637.9 204.4L638.5 202.9L639.0 201.5L639.6 200.1L640.2 198.7L640.7 197.3L641.2 196.0L641.8 194.7L642.3 193.4L642.8 192.1L643.4 190.8L643.9 189.6L644.4 188.4L644.9 187.2L645.4 186.0L645.9 184.9L646.4 183.8L646.9 182.7L647.4 181.6L647.8 180.6L648.3 179.5L648.8 178.5L649.2 177.6L649.7 176.6L650.2 175.7L650.6 174.8L651.1 173.9L651.5 173.0L651.9 172.2L652.4 171.4L652.8 170.6L653.2 169.8L653.6 169.1L654.0 168.4L654.4 167.7L654.8 167.0L655.2 166.3L655.6 165.7L656.0 165.1L656.4 164.5L656.7 163.9L657.1 163.4L657.5 162.8L657.8 162.3L658.2 161.8L658.5 161.3L658.8 160.9L659.2 160.4L659.5 160.0L659.8 159.6L660.1 159.2L660.4 158.8L660.7 158.4L661.0 158.1L661.3 157.7L661.6 157.4L661.9 157.1L662.2 156.8L662.4 156.6L662.7 156.3L662.9 156.0L663.2 155.8L663.4 155.6L663.7 155.4L663.9 155.2L664.1 155.0L664.3 154.8L664.5 154.6L664.7 154.5L664.9 154.3L665.1 154.2L665.3 154.0L665.4 153.9L665.6 153.8L665.8 153.7L665.9 153.6L666.0 153.5L666.2 153.4L666.3 153.3L666.4 153.3L666.5 153.2L666.6 153.1L666.7 153.1L666.7 153.0L666.8 153.0L666.9 153.0L666.9 153.0L666.9 153.0" stroke="#00cfd6" stroke-dasharray="7.1 7.1"/>
<path d="M100.5 482.2L102.4 482.2L104.3 482.2L106.3 482.2L108.2 482.2L110.1 482.2L112.0 482.2L113.9 482.2L115.8 482.2L117.7 482.1L119.6 482.1L121.5 482.1L123.4 482.1L125.3 482.1L127.2 482.1L129.1 482.1L131.0 482.1L132.8 482.0L134.7 482.0L136.6 482.0L138.5 482.0L140.3 482.0L142.2 482.0L144.1 482.0L145.9 482.0L147.8 481.9L149.7 481.9L151.5 481.9L153.4 481.9L155.2 481.9L157.1 481.9L158.9 481.9L160.7 481.8L162.6 481.8L164.4 481.8L166.2 481.8L168.1 481.8L169.9 481.8L171.7 481.7L173.5 481.7L175.4 481.7L177.2 481.7L179.0 481.7L180.8 481.7L182.6 481.7L184.4 481.6L186.2 481.6L188.0 481.6L189.8 481.6L191.6 481.6L193.4 481.5L195.2 481.5L197.0 481.5L198.7 481.5L200.5 481.5L202.3 481.5L204.1 481.4L205.8 481.4L207.6 481.4L209.4 481.4L211.1 481.4L212.9 481.3L214.6 481.3L216.4 481.3L218.2 481.3L219.9 481.3L221.6 481.2L223.4 481.2L225.1 481.2L226.9 481.2L228.6 481.2L230.3 481.1L232.1 481.1L233.8 481.1L235.5 481.1L237.2 481.1L238.9 481.0L240.7 481.0L242.4 481.0L244.1 481.0L245.8 480.9L247.5 480.9L249.2 480.9L250.9 480.9L252.6 480.8L254.3 480.8L256.0 480.8L257.6 480.8L259.3 480.7L261.0 480.7L262.7 480.7L264.4 480.7L266.0 480.6L267.7 480.6L269.4 480.6L271.0 480.6L272.7 480.5L274.4 480.5L276.0 480.5L277.7 480.4L279.3 480.4L281.0 480.4L282.6 480.4L284.2 480.3L285.9 480.3L287.5 480.3L289.1 480.2L290.8 480.2L292.4 480.2L294.0 480.1L295.6 480.1L297.3 480.1L298.9 480.0L300.5 480.0L302.1 480.0L303.7 479.9L305.3 479.9L306.9 479.9L308.5 479.8L310.1 479.8L311.7 479.8L313.3 479.7L314.8 479.7L316.4 479.7L318.0 479.6L319.6 479.6L321.2 479.5L322.7 479.5L324.3 479.5L325.9 479.4L327.4 479.4L329.0 479.3L330.5 479.3L332.1 479.3L333.6 479.2L335.2 479.2L336.7 479.1L338.3 479.1L339.8 479.0L341.3 479.0L342.9 478.9L344.4 478.9L345.9 478.9L347.4 478.8L349.0 478.8L350.5 478.7L352.0 478.7L353.5 478.6L355.0 478.6L356.5 478.5L358.0 478.5L359.5 478.4L361.0 478.4L362.5 478.3L364.0 478.2L365.5 478.2L367.0 478.1L368.4 478.1L369.9 478.0L371.4 478.0L372.9 477.9L374.3 477.9L375.8 477.8L377.3 477.7L378.7 477.7L380.2 477.6L381.6 477.5L383.1 477.5L384.5 477.4L386.0 477.4L387.4 477.3L388.9 477.2L390.3 477.2L391.7 477.1L393.2 477.0L394.6 476.9L396.0 476.9L397.4 476.8L398.8 476.7L400.3 476.7L401.7 476.6L403.1 476.5L404.5 476.4L405.9 476.3L407.3 476.3L408.7 476.2L410.1 476.1L411.5 476.0L412.8 475.9L414.2 475.9L415.6 475.8L417.0 475.7L418.4 475.6L419.7 475.5L421.1 475.4L422.5 475.3L423.8 475.2L425.2 475.1L426.5 475.0L427.9 474.9L429.2 474.8L430.6 474.7L431.9 474.6L433.3 474.5L434.6 474.4L435.9 474.3L437.3 474.2L438.6 474.1L439.9 474.0L441.2 473.9L442.5 473.8L443.9 473.7L445.2 473.5L446.5 473.4L447.8 473.3L449.1 473.2L450.4 473.1L451.7 472.9L453.0 472.8L454.2 472.7L455.5 472.6L456.8 472.4L458.1 472.3L459.4 472.1L460.6 472.0L461.9 471.9L463.2 471.7L464.4 471.6L465.7 471.4L466.9 471.3L468.2 471.1L469.5 471.0L470.7 470.8L471.9 470.7L473.2 470.5L474.4 470.3L475.7 470.2L476.9 470.0L478.1 469.8L479.3 469.6L480.6 469.5L481.8 469.3L483.0 469.1L484.2 468.9L485.4 468.7L486.6 468.5L487.8 468.3L489.0 468.1L490.2 467.9L491.4 467.7L492.6 467.5L493.8 467.3L494.9 467.1L496.1 466.9L497.3 466.7L498.5 466.4L499.6 466.2L500.8 466.0L501.9 465.7L503.1 465.5L504.3 465.3L505.4 465.0L506.6 464.8L507.7 464.5L508.8 464.2L510.0 464.0L511.1 463.7L512.2 463.4L513.4 463.1L514.5 462.9L515.6 462.6L516.7 462.3L517.8 462.0L518.9 461.7L520.1 461.4L521.2 461.0L522.3 460.7L523.4 460.4L524.4 460.1L525.5 459.7L526.6 459.4L527.7 459.0L528.8 458.7L529.9 458.3L530.9 457.9L532.0 457.6L533.1 457.2L534.1 456.8L535.2 456.4L536.2 456.0L537.3 455.6L538.3 455.2L539.4 454.7L540.4 454.3L541.5 453.9L542.5 453.4L543.5 453.0L544.5 452.5L545.6 452.0L546.6 451.5L547.6 451.0L548.6 450.5L549.6 450.0L550.6 449.5L551.6 449.0L552.6 448.4L553.6 447.9L554.6 447.3L555.6 446.8L556.6 446.2L557.6 445.6L558.5 445.0L559.5 444.4L560.5 443.7L561.5 443.1L562.4 442.4L563.4 441.8L564.3 441.1L565.3 440.4L566.2 439.7L567.2 439.0L568.1 438.3L569.0 437.5L570.0 436.8L570.9 436.0L571.8 435.2L572.8 434.4L573.7 433.6L574.6 432.8L575.5 431.9L576.4 431.0L577.3 430.2L578.2 429.3L579.1 428.3L580.0 427.4L580.9 426.4L581.8 425.5L582.6 424.5L583.5 423.5L584.4 422.4L585.3 421.4L586.1 420.3L587.0 419.2L587.8 418.1L588.7 417.0L589.6 415.8L590.4 414.7L591.2 413.5L592.1 412.2L592.9 411.0L593.7 409.7L594.6 408.4L595.4 407.1L596.2 405.8L597.0 404.4L597.8 403.0L598.7 401.6L599.5 400.2L600.3 398.7L601.1 397.2L601.8 395.7L602.6 394.1L603.4 392.5L604.2 390.9L605.0 389.3L605.7 387.6L606.5 385.9L607.3 384.2L608.0 382.5L608.8 380.7L609.5 378.9L610.3 377.0L611.0 375.1L611.8 373.2L612.5 371.3L613.2 369.3L614.0 367.3L614.7 365.3L615.4 363.2L616.1 361.1L616.8 359.0L617.5 356.8L618.3 354.6L618.9 352.4L619.6 350.2L620.3 347.9L621.0 345.6L621.7 343.2L622.4 340.8L623.1 338.4L623.7 336.0L624.4 333.5L625.1 331.0L625.7 328.5L626.4 326.0L627.0 323.4L627.7 320.8L628.3 318.2L628.9 315.5L629.6 312.8L630.2 310.1L630.8 307.4L631.4 304.7L632.0 301.9L632.6 299.2L633.2 296.4L633.8 293.6L634.4 290.8L635.0 287.9L635.6 285.1L636.2 282.2L636.8 279.4L637.4 276.5L637.9 273.7L638.5 270.8L639.0 267.9L639.6 265.1L640.2 262.2L640.7 259.4L641.2 256.5L641.8 253.7L642.3 250.9L642.8 248.1L643.4 245.3L643.9 242.5L644.4 239.7L644.9 237.0L645.4 234.3L645.9 231.6L646.4 229.0L646.9 226.4L647.4 223.8L647.8 221.2L648.3 218.7L648.8 216.2L649.2 213.8L649.7 211.4L650.2 209.0L650.6 206.7L651.1 204.5L651.5 202.2L651.9 200.1L652.4 198.0L652.8 195.9L653.2 193.9L653.6 191.9L654.0 190.0L654.4 188.1L654.8 186.3L655.2 184.6L655.6 182.9L656.0 181.3L656.4 179.7L656.7 178.1L657.1 176.7L657.5 175.2L657.8 173.9L658.2 172.6L658.5 171.3L658.8 170.1L659.2 169.0L659.5 167.9L659.8 166.8L660.1 165.8L660.4 164.9L660.7 164.0L661.0 163.1L661.3 162.3L661.6 161.6L661.9 160.9L662.2 160.2L662.4 159.6L662.7 159.0L662.9 158.4L663.2 157.9L663.4 157.4L663.7 157.0L663.9 156.5L664.1 156.2L664.3 155.8L664.5 155.5L664.7 155.2L664.9 154.9L665.1 154.7L665.3 154.4L665.4 154.2L665.6 154.0L665.8 153.9L665.9 153.7L666.0 153.6L666.2 153.5L666.3 153.4L666.4 153.3L666.5 153.2L666.6 153.1L666.7 153.1L666.7 153.0L666.8 153.0L666.9 153.0L666.9 153.0L666.9 153.0" stroke="#00cc00" stroke-dasharray="21.3 7.1 7.1 7.1 7.1 7.1"/>
</g>
<g fill="none" stroke-width="4.20" stroke-linecap="butt">
<line x1="123.9" y1="133.20" x2="208.9" y2="133.20" stroke="#000000"/>
<line x1="123.9" y1="161.50" x2="208.9" y2="161.50" stroke="#ff0000" stroke-dasharray="21.3 7.1"/>
<line x1="123.9" y1="189.80" x2="208.9" y2="189.80" stroke="#d200d2" stroke-dasharray="5 4.46"/>
<line x1="123.9" y1="218.10" x2="208.9" y2="218.10" stroke="#0000ff" stroke-dasharray="21.3 7.1 7.1 7.1"/>
<line x1="123.9" y1="246.40" x2="208.9" y2="246.40" stroke="#00cfd6" stroke-dasharray="7.1 7.1"/>
<line x1="123.9" y1="274.70" x2="208.9" y2="274.70" stroke="#00cc00" stroke-dasharray="21.3 7.1 7.1 7.1 7.1 7.1"/>
</g>
<text class="h" font-size="33" text-anchor="middle" transform="translate(100.50,517.50) scale(1,1.070)">0</text>
<text class="h" font-size="33" text-anchor="middle" transform="translate(213.78,517.50) scale(1,1.070)">0.2</text>
<text class="h" font-size="33" text-anchor="middle" transform="translate(327.06,517.50) scale(1,1.070)">0.4</text>
<text class="h" font-size="33" text-anchor="middle" transform="translate(440.34,517.50) scale(1,1.070)">0.6</text>
<text class="h" font-size="33" text-anchor="middle" transform="translate(553.62,517.50) scale(1,1.070)">0.8</text>
<path fill="#000" d="M669.05 516.85L666.00 516.85L666.00 499.85L660.70 499.85L660.70 497.25C663.65 497.05 665.75 495.45 666.75 492.95L669.05 492.95Z"/>
<text class="h" font-size="33" text-anchor="middle" transform="translate(100.30,86.55) scale(1,1.070)">0</text>
<text class="h" font-size="33" text-anchor="middle" transform="translate(145.27,86.55) scale(1,1.070)">0.2</text>
<text class="h" font-size="33" text-anchor="middle" transform="translate(257.85,86.55) scale(1,1.070)">0.4</text>
<text class="h" font-size="33" text-anchor="middle" transform="translate(401.31,86.55) scale(1,1.070)">0.6</text>
<text class="h" font-size="33" text-anchor="middle" transform="translate(542.77,86.55) scale(1,1.070)">0.8</text>
<path fill="#000" d="M667.00 85.95L663.95 85.95L663.95 68.95L658.65 68.95L658.65 66.35C661.60 66.15 663.70 64.55 664.70 62.05L667.00 62.05Z"/>
<text class="h" font-size="33" text-anchor="end" transform="translate(95.50,494.15) scale(1,1.070)">0</text>
<text class="h" font-size="33" text-anchor="end" transform="translate(95.50,410.29) scale(1,1.070)">0.2</text>
<text class="h" font-size="33" text-anchor="end" transform="translate(95.50,326.44) scale(1,1.070)">0.4</text>
<text class="h" font-size="33" text-anchor="end" transform="translate(95.50,242.58) scale(1,1.070)">0.6</text>
<text class="h" font-size="33" text-anchor="end" transform="translate(95.50,158.73) scale(1,1.070)">0.8</text>
<text stroke="#000" stroke-width="0.35" class="s" font-size="36.00" x="214.01" y="142.50">π</text>
<text class="i" font-size="32.70" x="232.34" y="142.50">N</text>
<text class="s" font-size="32.70" x="254.46" y="142.50">(</text>
<text class="s" font-size="32.70" x="264.25" y="142.50">0</text>
<text class="s" font-size="32.70" x="282.55" y="142.50">)</text>
<text class="i" font-size="32.70" x="293.43" y="142.50">I</text>
<text class="s" font-size="22.90" x="304.10" y="150.40">b</text>
<rect x="324.80" y="128.80" width="17.30" height="2.10" fill="#000"/>
<rect x="324.80" y="136.05" width="17.30" height="2.10" fill="#000"/>
<text class="s" font-size="32.70" x="350.65" y="142.50">0</text>
<text class="s" font-size="32.70" x="349.95" y="170.90">0.5</text>
<text class="s" font-size="32.70" x="351.83" y="199.30">1</text>
<text class="s" font-size="32.70" x="350.06" y="227.70">2</text>
<text class="s" font-size="32.70" x="350.10" y="256.10">5</text>
<text class="s" font-size="32.70" x="351.53" y="284.50">10</text>
<text class="i" font-size="32.70" x="350.63" y="38.70">I</text>
<text class="s" font-size="22.90" x="362.10" y="46.50">b</text>
<polygon points="369.40,14.50 372.20,16.10 365.90,23.30 365.20,22.80" fill="#000"/>
<text class="s" font-size="32.70" x="378.70" y="38.70">/</text>
<text class="i" font-size="32.70" x="388.23" y="38.70">I</text>
<text class="s" font-size="22.90" x="400.00" y="46.50">b</text>
<text stroke="#000" stroke-width="0.35" class="s" font-size="36.00" x="680.91" y="151.50">π</text>
<rect x="681.70" y="161.35" width="17.10" height="1.90" fill="#000"/>
<text class="h" font-size="33.00" transform="translate(681.00,185.30) scale(0.9300,1.0300)">4</text>
<g transform="translate(29.4,340.5) rotate(-90)">
<rect x="0.20" y="-9.90" width="17.30" height="2.00" fill="#000"/>
<text class="s" font-size="32.70" transform="translate(17.27,0.00) scale(1.0670,1.0000)">Δ</text>
<text class="i" font-size="32.70" transform="translate(36.45,0.00) scale(1.1000,1.0000)">T</text>
<text class="i" font-size="22.90" x="56.20" y="8.10">c</text>
<text stroke="#000" stroke-width="0.5" class="s" font-size="32.70" x="67.30" y="0.00">/</text>
<g fill="none" stroke="#000" stroke-linecap="round" stroke-linejoin="round"><path d="M79.7,-11.6 C80.1,-15.2 81.8,-17.0 83.6,-16.3 C85.6,-15.4 86.9,-9.5 87.7,-3.4" stroke-width="1.8"/><path d="M95.4,-16.3 L88.8,-3.0 C87.0,0.8 85.0,4.4 84.4,5.9" stroke-width="2.8" stroke-linecap="butt"/><circle cx="84.2" cy="5.5" r="1.2" stroke-width="1.8"/></g>
</g>
<text class="i" font-size="32.70" x="274.60" y="577.00">x</text>
<rect x="298.50" y="563.30" width="18.00" height="2.00" fill="#000"/>
<rect x="298.50" y="570.20" width="18.00" height="2.00" fill="#000"/>
<rect x="329.50" y="565.25" width="103.90" height="1.90" fill="#000"/>
<text class="s" font-size="32.70" x="359.06" y="547.70">2</text>
<text class="i" font-size="32.70" x="377.03" y="547.70">I</text>
<text class="s" font-size="22.90" x="388.60" y="555.90">b</text>
<polygon points="395.40,523.80 398.20,525.40 391.90,532.60 391.20,532.10" fill="#000"/>
<text class="s" font-size="22.90" x="398.99" y="530.00">2</text>
<text class="i" font-size="32.70" x="331.33" y="604.70">I</text>
<text class="s" font-size="22.90" x="341.80" y="612.30">b</text>
<text class="s" font-size="22.90" x="345.79" y="586.60">2</text>
<rect x="367.00" y="594.85" width="17.20" height="1.90" fill="#000"/>
<rect x="374.65" y="586.90" width="1.9" height="17.80" fill="#000"/>
<text class="i" font-size="32.70" x="393.73" y="604.70">I</text>
<text class="s" font-size="22.90" x="404.20" y="612.30">b</text>
<polygon points="412.40,580.50 415.20,582.10 408.90,589.30 408.20,588.80" fill="#000"/>
<text class="s" font-size="22.90" x="415.99" y="586.20">2</text>
</svg></body></html>
